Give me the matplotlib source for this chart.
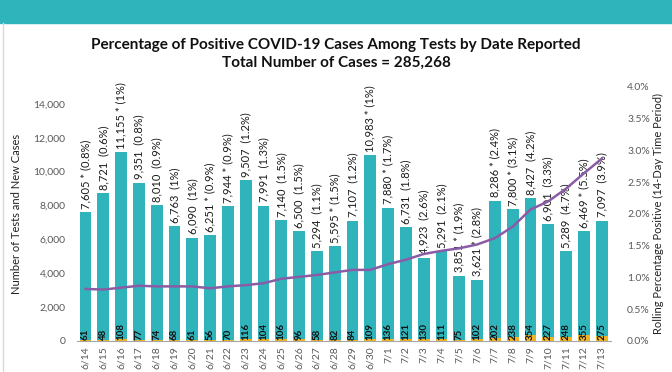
import matplotlib
matplotlib.use("Agg")
import matplotlib.pyplot as plt
import matplotlib.ticker as ticker
import numpy as np

plt.rcParams['font.family'] = ['Lato', 'DejaVu Sans']

dates = ["6/14", "6/15", "6/16", "6/17", "6/18", "6/19", "6/20", "6/21", "6/22", "6/23",
         "6/24", "6/25", "6/26", "6/27", "6/28", "6/29", "6/30", "7/1", "7/2", "7/3",
         "7/4", "7/5", "7/6", "7/7", "7/8", "7/9", "7/10", "7/11", "7/12", "7/13"]
tests = [7605, 8721, 11155, 9351, 8010, 6763, 6090, 6251, 7944, 9507,
         7991, 7140, 6500, 5294, 5595, 7107, 10983, 7880, 6731, 4923,
         5291, 3851, 3621, 8286, 7800, 8427, 6901, 5289, 6469, 7097]
star = [1, 0, 1, 0, 0, 0, 0, 1, 1, 0,
        0, 0, 0, 0, 1, 0, 1, 1, 0, 0,
        0, 1, 1, 1, 1, 0, 0, 0, 1, 0]
daily_pct = ["0.8%", "0.6%", "1%", "0.8%", "0.9%", "1%", "1%", "0.9%", "0.9%", "1.2%",
             "1.3%", "1.5%", "1.5%", "1.1%", "1.5%", "1.2%", "1%", "1.7%", "1.8%", "2.6%",
             "2.1%", "1.9%", "2.8%", "2.4%", "3.1%", "4.2%", "3.3%", "4.7%", "5.5%", "3.9%"]
cases = [61, 48, 108, 77, 74, 68, 61, 56, 70, 116,
         104, 106, 96, 58, 82, 84, 109, 136, 121, 130,
         111, 75, 102, 202, 238, 354, 227, 248, 355, 275]
rolling = [0.82, 0.81, 0.84, 0.87, 0.86, 0.86, 0.86, 0.83, 0.86, 0.88,
           0.91, 0.98, 1.01, 1.04, 1.08, 1.12, 1.12, 1.21, 1.28, 1.37,
           1.42, 1.46, 1.52, 1.62, 1.80, 2.07, 2.20, 2.40, 2.64, 2.87]

teal = "#2fb4bc"
gold = "#f0b323"
purple = "#8a5ca6"
grey = "#595959"

fig = plt.figure(figsize=(6.72, 3.72), dpi=100)

# banner on top + faint frame on the left
fig.patches.append(plt.Rectangle((0, 1 - 23 / 372), 1, 23 / 372, transform=fig.transFigure,
                                 color=teal, zorder=0))
fig.add_artist(plt.Line2D([0.004, 0.004], [0, 1 - 23 / 372], transform=fig.transFigure,
                          color="#d9d9d9", lw=1))

fig.text(0.5, 1 - 45 / 372, "Percentage of Positive COVID-19 Cases Among Tests by Date Reported",
         ha="center", va="center", fontsize=11, fontweight="bold", color="#111111")
fig.text(0.5, 1 - 63 / 372, "Total Number of Cases = 285,268",
         ha="center", va="center", fontsize=11, fontweight="bold", color="#111111")

ax = fig.add_axes([0.114, 31 / 372, 0.7946, 254 / 372])
x = np.arange(len(dates))
ax.bar(x, tests, width=0.66, color=teal, zorder=2)
ax.bar(x, cases, width=0.66, color=gold, zorder=3)

for i in range(len(dates)):
    lab = f"{tests[i]:,}" + (" * " if star[i] else "  ") + f"({daily_pct[i]})"
    ax.text(x[i], tests[i] + 200, lab, rotation=90, ha="center", va="bottom",
            fontsize=8, color="#1a1a1a", zorder=5)
    ax.text(x[i], 60, str(cases[i]), rotation=90, ha="center", va="bottom",
            fontsize=7, fontweight="bold", color="#111111", zorder=5)

ax.set_xlim(-0.5, len(dates) - 0.5)
ax.set_ylim(0, 15000)
ax.yaxis.set_major_locator(ticker.FixedLocator(range(0, 15000, 2000)))
ax.yaxis.set_major_formatter(ticker.FuncFormatter(lambda v, p: f"{int(v):,}"))
ax.set_xticks(x)
ax.set_xticklabels(dates, rotation=90, fontsize=7.5, color=grey)
ax.tick_params(axis="x", length=0, pad=4)
ax.tick_params(axis="y", length=0, labelsize=7.5, labelcolor=grey, pad=8)
for s in ["top", "left", "right"]:
    ax.spines[s].set_visible(False)
ax.spines["bottom"].set_color("#a6a6a6")
ax.spines["bottom"].set_zorder(4)
ax.set_ylabel("Number of Tests and New Cases", fontsize=8, color="#222222", labelpad=8)

ax2 = ax.twinx()
ax2.plot(x, rolling, color=purple, lw=1.8, zorder=6)
ax2.set_ylim(0, 4.0)
ax2.yaxis.set_major_locator(ticker.MultipleLocator(0.5))
ax2.yaxis.set_major_formatter(ticker.FuncFormatter(lambda v, p: f"{v:.1f}%"))
ax2.tick_params(axis="y", length=0, labelsize=7.5, labelcolor=grey, pad=12)
for s in ["top", "left", "right", "bottom"]:
    ax2.spines[s].set_visible(False)
ax2.set_ylabel("Rolling Percentage Positive (14-Day Time Period)", fontsize=8,
               color="#222222", labelpad=2)

fig.savefig("out.png", dpi=100)
